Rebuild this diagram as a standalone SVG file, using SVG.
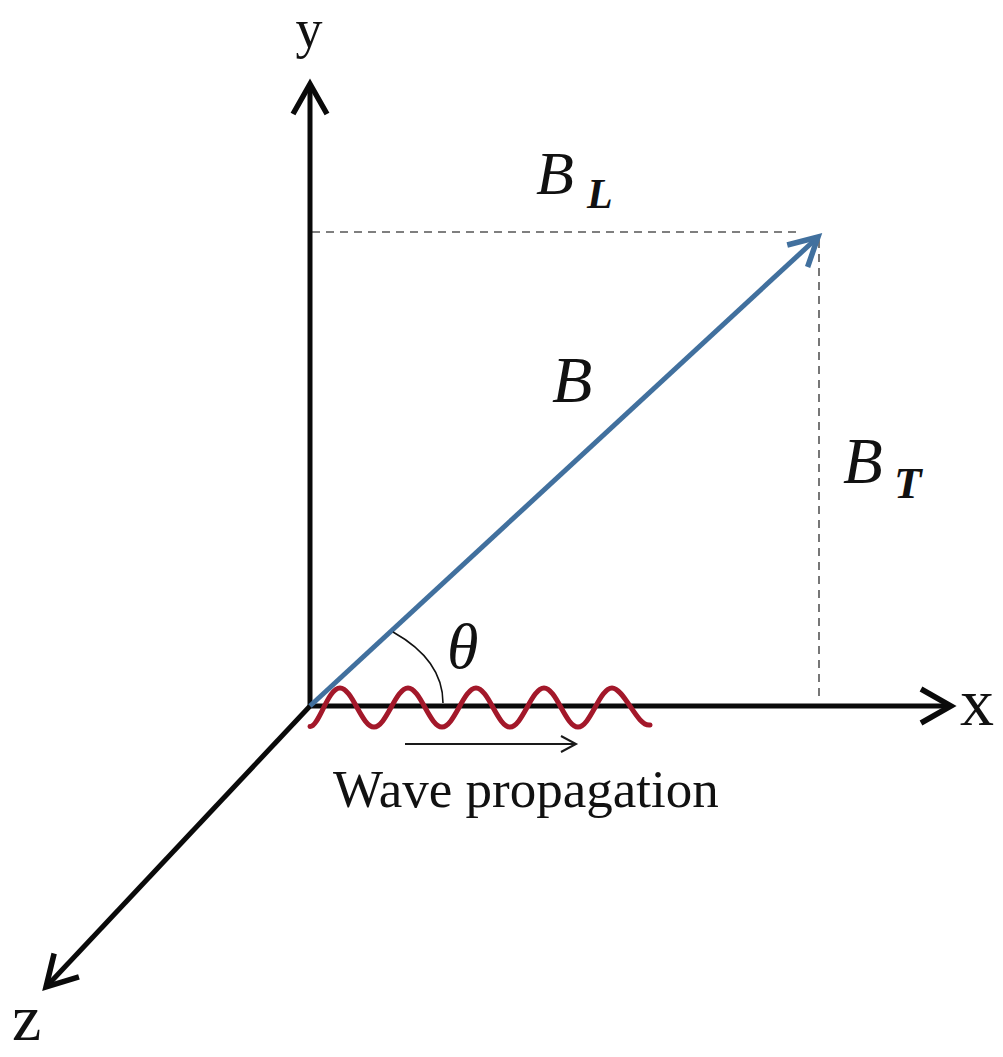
<svg xmlns="http://www.w3.org/2000/svg" width="1003" height="1057" viewBox="0 0 1003 1057">
<style>
.axis{stroke:#0a0a0a;stroke-width:5;fill:none}
.vec{stroke:#41709e;stroke-width:5;fill:none}
.dash{stroke:#555;stroke-width:1.6;stroke-dasharray:8 6;fill:none}
.wave{stroke:#a3182a;stroke-width:5;fill:none;stroke-linecap:round}
.thin{stroke:#1a1a1a;stroke-width:2;fill:none}
.lbl{font-family:"Liberation Serif","Times New Roman",serif;fill:#111}
.it{font-style:italic}
.sub{font-style:italic;font-weight:bold}
</style>
<defs>
<marker id="ah" markerUnits="userSpaceOnUse" viewBox="-40 -24 46 48" markerWidth="46" markerHeight="48" refX="0" refY="0" orient="auto" overflow="visible">
<path d="M-30,-17 L0,0 L-30,17" stroke="#0a0a0a" stroke-width="5.5" fill="none"/>
</marker>
<marker id="ahb" markerUnits="userSpaceOnUse" viewBox="-40 -24 46 48" markerWidth="46" markerHeight="48" refX="0" refY="0" orient="auto" overflow="visible">
<path d="M-28,-15 L0,0 L-28,15" stroke="#41709e" stroke-width="5.5" fill="none"/>
</marker>
<marker id="ahs" markerUnits="userSpaceOnUse" viewBox="-20 -12 24 24" markerWidth="24" markerHeight="24" refX="0" refY="0" orient="auto" overflow="visible">
<path d="M-15,-8 L0,0 L-15,8" stroke="#1a1a1a" stroke-width="2" fill="none"/>
</marker>
</defs>
<rect width="1003" height="1057" fill="#fff"/>
<g id="connectors">
<g id="dashed-components">
<line class="dash" x1="312" y1="232" x2="798" y2="232"/>
<line class="dash" x1="819" y1="240" x2="819" y2="700"/>
</g>
<g id="axes">
<line class="axis" x1="310" y1="708" x2="310" y2="84" marker-end="url(#ah)"/>
<line class="axis" x1="308" y1="706" x2="951" y2="706" marker-end="url(#ah)"/>
<line class="axis" x1="311" y1="705" x2="46" y2="987" marker-end="url(#ah)"/>
</g>
<g id="vector-B">
<line class="vec" x1="310" y1="706" x2="818" y2="237" marker-end="url(#ahb)"/>
</g>
<g id="angle">
<path d="M393,632 Q443,660 443,703" stroke="#111" stroke-width="1.6" fill="none"/>
</g>
<g id="wave">
<path class="wave" d="M310,726.5 C319,727 327.65,688 340,688 S361.65,727 374,727 S395.65,688 408,688 S429.65,727 442,727 S463.65,688 476,688 S497.65,727 510,727 S531.65,688 544,688 S565.65,727 578,727 S599.65,688 612,688 S637,727 650,725"/>
<line class="thin" x1="405" y1="744" x2="576" y2="744" marker-end="url(#ahs)"/>
</g>
</g>
<g id="labels">
<text class="lbl" x="309" y="47" font-size="54" text-anchor="middle">y</text>
<text class="lbl" x="960" y="725" font-size="68">x</text>
<text class="lbl" x="12" y="1040" font-size="66">z</text>
<text class="lbl it" x="447" y="668" font-size="64">θ</text>
<text class="lbl it" x="552" y="402" font-size="66">B</text>
<g id="label-BL"><text class="lbl it" x="536" y="194" font-size="62">B</text><text class="lbl sub" x="587" y="208" font-size="42">L</text></g>
<g id="label-BT"><text class="lbl it" x="843" y="483" font-size="65">B</text><text class="lbl sub" x="894" y="498" font-size="45">T</text></g>
<text class="lbl" x="333" y="807" font-size="53">Wave propagation</text>
</g>
</svg>
